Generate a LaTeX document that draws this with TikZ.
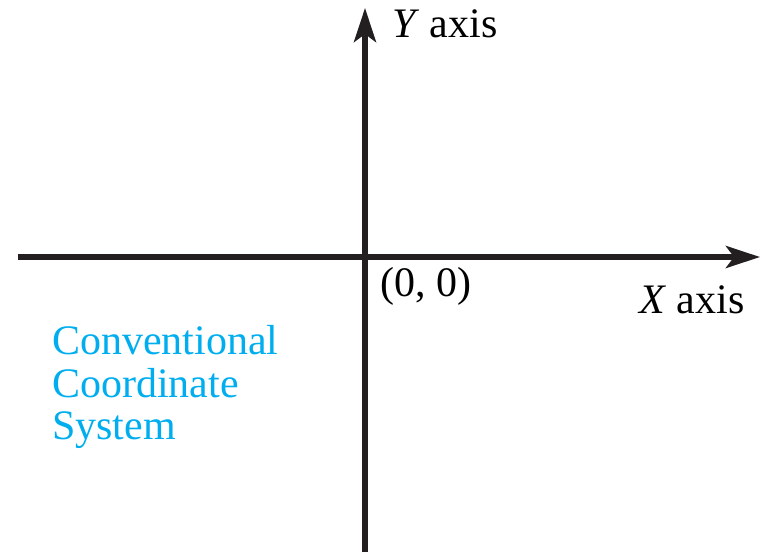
\documentclass[tikz,border=0pt]{standalone}
\usepackage{fontspec}
\setmainfont{Liberation Serif}
\usetikzlibrary{arrows.meta}
\definecolor{labelcyan}{RGB}{0,174,239}
\begin{document}
\begin{tikzpicture}[x=1pt,y=-1pt,
  axis/.style={line width=5.5pt,draw={rgb,255:red,35;green,31;blue,32},
    -{Stealth[length=34pt,width=22pt,inset=8pt]}},
  lbl/.style={font=\fontsize{42}{44}\selectfont,inner sep=0pt,anchor=base west}]
\useasboundingbox (0,0) rectangle (765,552);
\coordinate (xs) at (18,257);
\coordinate (xe) at (760,257);
\coordinate (ys) at (365,552);
\coordinate (ye) at (365,8);
\draw[axis] (xs) -- (xe);
\draw[axis] (ys) -- (ye);
\node[lbl] (ylab) at (392,37) {\textit{Y} axis};
\node[lbl] (xlab) at (639,313) {\textit{X} axis};
\node[lbl] (orig) at (380,296) {(0, 0)};
\node[lbl,text=labelcyan] (c1) at (52,354) {Conventional};
\node[lbl,text=labelcyan] (c2) at (52,397) {Coordinate};
\node[lbl,text=labelcyan] (c3) at (52,439) {System};
\end{tikzpicture}
\end{document}
